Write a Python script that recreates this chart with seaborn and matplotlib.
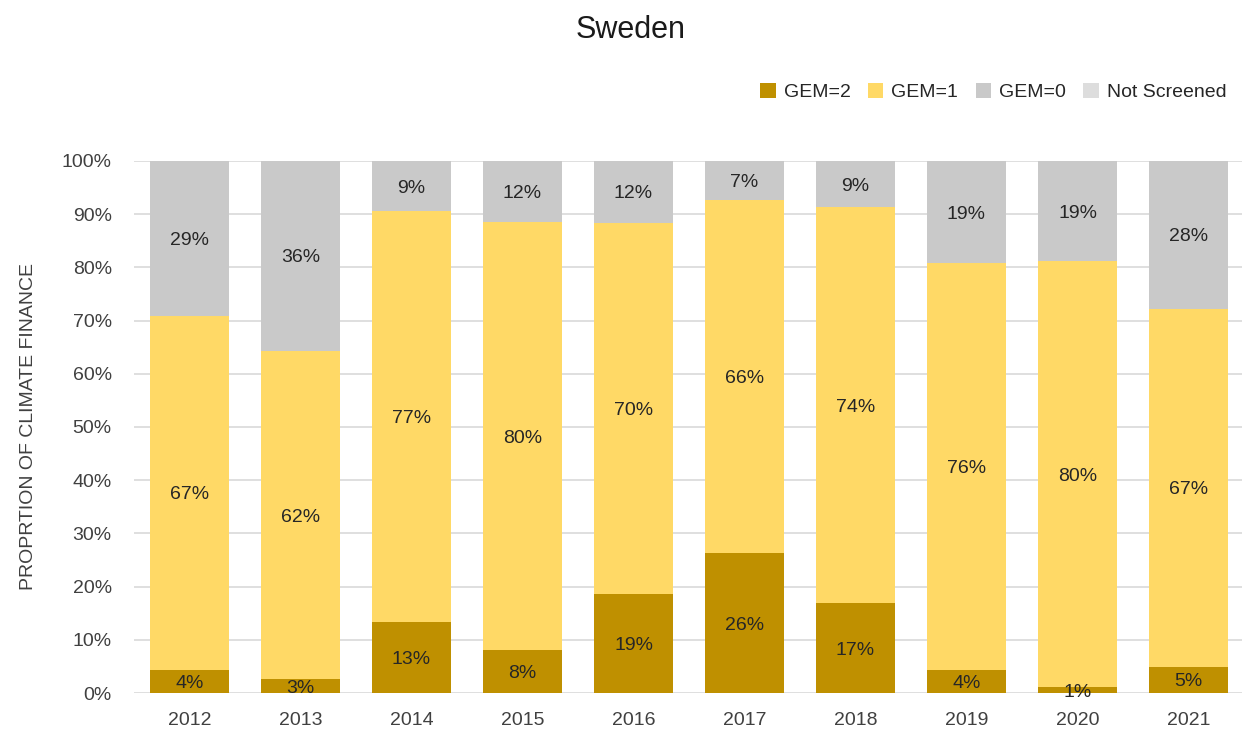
import matplotlib
matplotlib.use("Agg")
import matplotlib.pyplot as plt
import seaborn as sns
import pandas as pd
import numpy as np
from matplotlib.patches import Patch
from matplotlib import font_manager

years = ["2012", "2013", "2014", "2015", "2016", "2017", "2018", "2019", "2020", "2021"]
gem2 = [4.3, 2.6, 13.3, 8.1, 18.6, 26.3, 16.9, 4.3, 1.1, 4.9]
gem1 = [66.6, 61.7, 77.3, 80.4, 69.8, 66.4, 74.4, 76.5, 80.1, 67.3]
gem0 = [29.1, 35.7, 9.4, 11.5, 11.6, 7.3, 8.7, 19.2, 18.8, 27.8]
not_screened = [0, 0, 0, 0, 0, 0, 0, 0, 0, 0]

series_names = ["GEM=2", "GEM=1", "GEM=0", "Not Screened"]
colors = ["#BF9000", "#FFD966", "#C9C9C9", "#DDDDDD"]

sns.set_theme(style="white")
names = {f.name for f in font_manager.fontManager.ttflist}
fam = "Liberation Sans Narrow" if "Liberation Sans Narrow" in names else "Liberation Sans"
plt.rcParams["font.family"] = [fam, "DejaVu Sans"]

df = pd.DataFrame({"year": years, "GEM=2": gem2, "GEM=1": gem1, "GEM=0": gem0, "Not Screened": not_screened})
layers = [df[s].to_numpy() for s in series_names]
cum = np.cumsum(np.vstack(layers), axis=0)

fig = plt.figure(figsize=(12.42, 7.38), dpi=100)
ax = fig.add_axes([134 / 1242, 1 - 693 / 738, (1244 - 134) / 1242, (693 - 161) / 738])

for i in range(len(series_names) - 1, -1, -1):
    d = pd.DataFrame({"year": years, "val": cum[i]})
    sns.barplot(data=d, x="year", y="val", color=colors[i], width=0.71,
                saturation=1, ax=ax, zorder=2, linewidth=0)

for i in range(3):
    bottoms = cum[i] - layers[i]
    for j, y in enumerate(years):
        v = layers[i][j]
        if v > 0:
            ax.text(j, bottoms[j] + v / 2, f"{round(v):.0f}%", ha="center", va="center_baseline",
                    fontsize=14, color="#262626", zorder=3)

ax.set_ylim(0, 100)
ax.set_xlim(-0.5, 9.5)
ax.set_yticks(np.arange(0, 101, 10))
ax.set_yticklabels([f"{t}%" for t in range(0, 101, 10)])
ax.yaxis.grid(True, color="#D9D9D9", linewidth=1.2, zorder=0)
ax.set_axisbelow(True)
for s in ax.spines.values():
    s.set_visible(False)
ax.tick_params(axis="both", labelsize=14, colors="#404040", length=0)
ax.tick_params(axis="x", pad=14)
ax.tick_params(axis="y", pad=16)
ax.set_xlabel("")
ax.set_ylabel("PROPRTION OF CLIMATE FINANCE", fontsize=14, color="#404040", labelpad=18)

fig.text(631 / 1242, 1 - 30 / 738, "Sweden", ha="center", va="center", fontsize=22, color="#1a1a1a")

handles = [Patch(facecolor=c, edgecolor="none") for c in colors]
fig.legend(handles, series_names, loc="center right", bbox_to_anchor=(1236 / 1242, 1 - 92 / 738),
           ncol=4, frameon=False, fontsize=14, handlelength=0.8, handleheight=0.8,
           handletextpad=0.4, columnspacing=0.9, labelcolor="#262626", borderpad=0)

fig.savefig("out.png", dpi=100)
